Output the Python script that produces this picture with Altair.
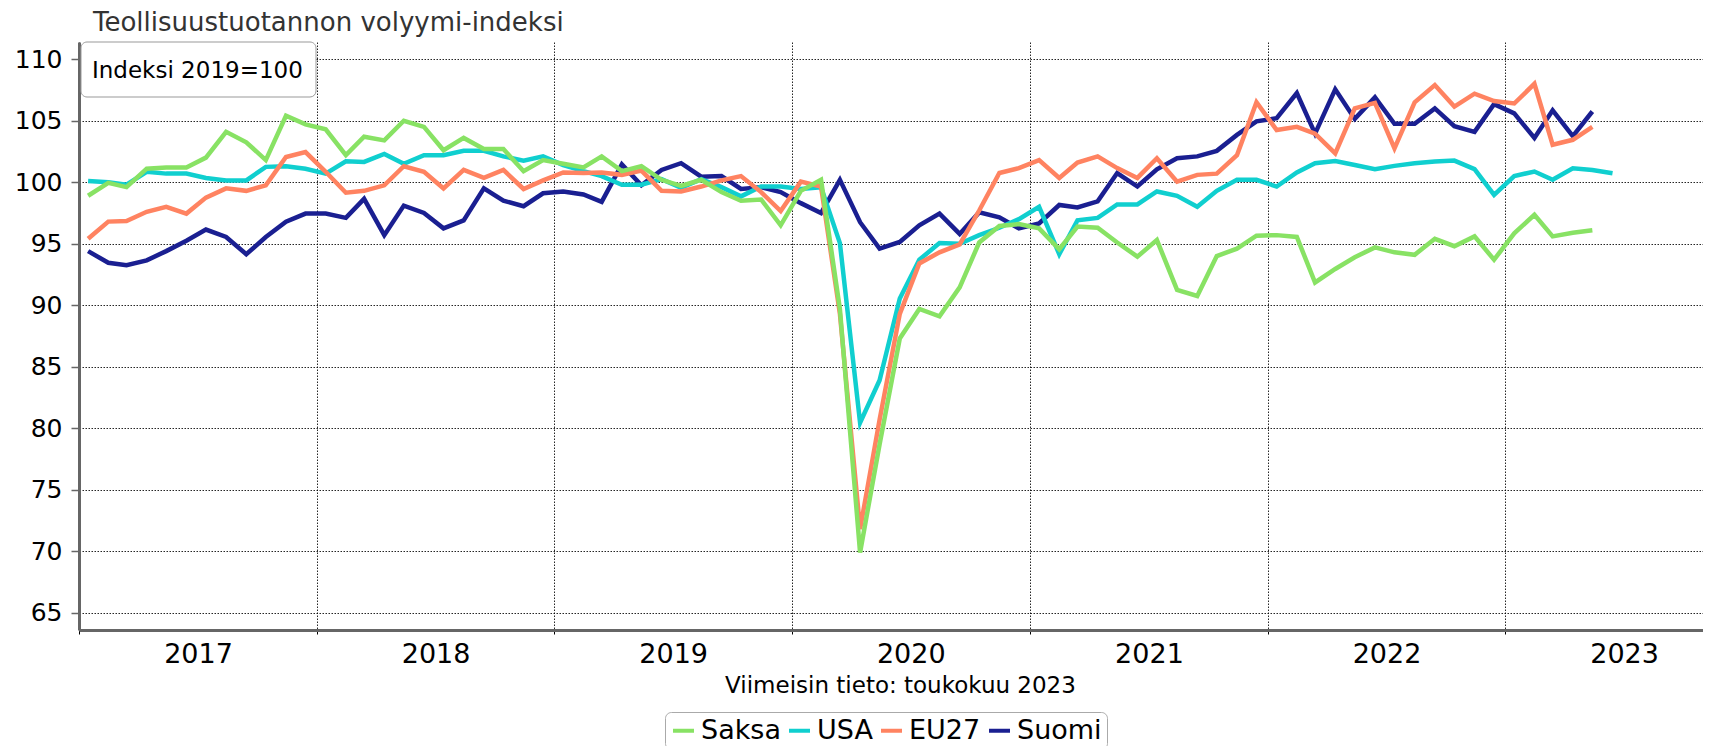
import altair as alt
import pandas as pd

# Monthly observations (mid-month), Jan 2017 - Jun 2023
months = pd.date_range("2017-01-01", "2023-06-01", freq="MS")
dates = [(m + pd.Timedelta(days=14)).strftime("%Y-%m-%d") for m in months]

series_names = ["Saksa", "USA", "EU27", "Suomi"]
series_colors = ["#88E264", "#10CFCF", "#FF8361", "#1A1F91"]

saksa = [
    98.9, 99.95, 99.6, 101.1, 101.2, 101.2, 102.0, 104.1, 103.25, 101.8, 105.4, 104.7,
    104.3, 102.2, 103.7, 103.4, 105.0, 104.5, 102.6, 103.6, 102.7, 102.7, 100.9, 101.8,
    101.5, 101.2, 102.1, 100.9, 101.3, 100.2, 99.7, 100.2, 99.2, 98.5, 98.6, 96.5,
    99.3, 100.2, 89.7, 69.9, 78.7, 87.3, 89.7, 89.1, 91.45, 95.1, 96.45, 96.6,
    96.25, 94.55, 96.4, 96.3, 95.1, 93.95, 95.3, 91.25, 90.75, 94.0, 94.6, 95.65,
    95.7, 95.55, 91.85, 92.95, 93.9, 94.7, 94.3, 94.1, 95.4, 94.8, 95.6, 93.7,
    95.85, 97.35, 95.6, 95.9, 96.1,
]
usa = [
    100.1, 100.0, 99.8, 100.85, 100.7, 100.7, 100.35, 100.15, 100.15, 101.25, 101.3, 101.1,
    100.7, 101.7, 101.65, 102.3, 101.5, 102.2, 102.2, 102.55, 102.55, 102.1, 101.75, 102.1,
    101.4, 100.9, 100.5, 99.8, 99.8, 100.25, 99.55, 100.25, 99.6, 98.85, 99.65, 99.65,
    99.45, 99.6, 95.05, 80.45, 83.9, 90.55, 93.7, 95.05, 95.0, 95.7, 96.3, 97.0,
    98.0, 94.15, 96.9, 97.1, 98.2, 98.2, 99.25, 98.9, 98.0, 99.3, 100.2, 100.2,
    99.65, 100.8, 101.55, 101.73, 101.4, 101.06, 101.33, 101.54, 101.68, 101.76, 101.06, 98.97,
    100.5, 100.87, 100.2, 101.14, 101.0, 100.73,
]
eu27 = [
    95.4, 96.8, 96.85, 97.6, 98.0, 97.45, 98.75, 99.5, 99.3, 99.75, 102.05, 102.45,
    100.85, 99.15, 99.3, 99.75, 101.3, 100.85, 99.5, 101.0, 100.35, 101.0, 99.45, 100.15,
    100.8, 100.75, 100.8, 100.6, 100.95, 99.3, 99.25, 99.65, 100.15, 100.5, 99.2, 97.65,
    100.05, 99.65, 89.3, 71.8, 80.7, 89.3, 93.4, 94.3, 94.95, 97.7, 100.75, 101.15,
    101.8, 100.35, 101.6, 102.1, 101.15, 100.35, 101.95, 100.05, 100.6, 100.7, 102.2, 106.5,
    104.25, 104.5, 103.95, 102.35, 106.0, 106.45, 102.75, 106.5, 107.9, 106.15, 107.2, 106.6,
    106.4, 108.0, 103.05, 103.45, 104.5,
]
suomi = [
    94.4, 93.45, 93.25, 93.65, 94.4, 95.25, 96.15, 95.55, 94.15, 95.55, 96.8, 97.45,
    97.45, 97.1, 98.65, 95.7, 98.1, 97.5, 96.25, 96.9, 99.5, 98.5, 98.05, 99.1,
    99.25, 99.0, 98.4, 101.45, 99.75, 101.0, 101.55, 100.45, 100.5, 99.45, 99.6, 99.2,
    98.3, 97.5, 100.2, 96.75, 94.6, 95.15, 96.5, 97.45, 95.8, 97.55, 97.15, 96.25,
    96.65, 98.15, 97.95, 98.45, 100.75, 99.65, 101.05, 101.95, 102.1, 102.55, 103.85, 104.95,
    105.2, 107.25, 103.95, 107.55, 105.15, 106.9, 104.75, 104.75, 106.0, 104.55, 104.1, 106.35,
    105.6, 103.6, 105.85, 103.75, 105.75,
]

y_ticks = [65, 70, 75, 80, 85, 90, 95, 100, 105, 110]
box_text = ["Indeksi 2019=100"]

rows = []
for name, vals in [("Suomi", suomi), ("USA", usa), ("EU27", eu27), ("Saksa", saksa)]:
    for d, v in zip(dates, vals):
        rows.append({"kk": d, "sarja": name, "arvo": v})
df = pd.DataFrame(rows)
box_df = pd.DataFrame({"teksti": box_text})

x_enc = alt.X(
    "kk:T",
    scale=alt.Scale(
        type="utc",
        domain=[
            alt.DateTime(year=2017, month=1, date=1, utc=True),
            alt.DateTime(year=2023, month=11, date=1, utc=True),
        ],
    ),
    axis=alt.Axis(
        title="Viimeisin tieto: toukokuu 2023",
        format="%Y",
        tickCount={"interval": "year", "step": 1},
        labelOffset=119,
        labelAlign="center",
        labelFlush=False,
        labelBound=False,
        labelOverlap=False,
        labelFontSize=27,
        labelColor="black",
        labelPadding=7,
        tickSize=4,
        tickColor="black",
        tickWidth=1,
        domainColor="#666666",
        domainWidth=3,
        grid=True,
        gridColor="#000000",
        gridDash=[1.5, 1.5],
        gridWidth=1,
        gridOpacity=0.85,
        titleFontSize=23,
        titleFontWeight="normal",
        titleColor="black",
        titleX=821,
        titleY=62.7,
        titleBaseline="alphabetic",
        titleAlign="center",
    ),
)

y_enc = alt.Y(
    "arvo:Q",
    scale=alt.Scale(domain=[63.6, 111.4], nice=False, zero=False),
    axis=alt.Axis(
        title=None,
        values=y_ticks,
        labelFontSize=25,
        labelColor="black",
        labelPadding=9,
        tickSize=8,
        tickColor="#666666",
        tickWidth=1.5,
        domainColor="#666666",
        domainWidth=3,
        grid=True,
        gridColor="#000000",
        gridDash=[1.5, 1.5],
        gridWidth=1,
        gridOpacity=0.85,
    ),
)

lines = alt.Chart(df).mark_line(strokeWidth=4.5, clip=True).encode(
    x=x_enc,
    y=y_enc,
    color=alt.Color(
        "sarja:N",
        scale=alt.Scale(domain=series_names, range=series_colors),
        legend=alt.Legend(
            title=None,
            orient="none",
            legendX=586,
            legendY=670,
            direction="horizontal",
            fillColor="white",
            strokeColor="#aaaaaa",
            cornerRadius=6,
            padding=5,
            labelFontSize=27,
            labelColor="black",
            symbolType="stroke",
            symbolStrokeWidth=4,
            symbolSize=441,
            columnPadding=0,
            labelOffset=4,
        ),
    ),
    detail="sarja:N",
)

box = alt.Chart(box_df).mark_rect(
    fill="white", stroke="#999999", strokeWidth=1, cornerRadius=6
).encode(x=alt.value(2), x2=alt.value(237), y=alt.value(0), y2=alt.value(55))

box_label = alt.Chart(box_df).mark_text(
    align="left", baseline="alphabetic", fontSize=23, color="black"
).encode(x=alt.value(13), y=alt.value(36), text="teksti:N")

chart = (
    alt.layer(lines, box, box_label)
    .properties(
        width=1624,
        height=588,
        autosize="none",
        padding={"left": 71, "top": 34, "right": 0, "bottom": 116},
        title=alt.TitleParams(
            "Teollisuustuotannon volyymi-indeksi",
            anchor="start",
            frame="group",
            fontSize=26,
            fontWeight="normal",
            color="#333333",
            dx=14,
            offset=6,
        ),
    )
    .configure(font="DejaVu Sans")
    .configure_view(stroke=None)
)

chart.save("out.html", embed_options={"renderer": "svg", "actions": False})
